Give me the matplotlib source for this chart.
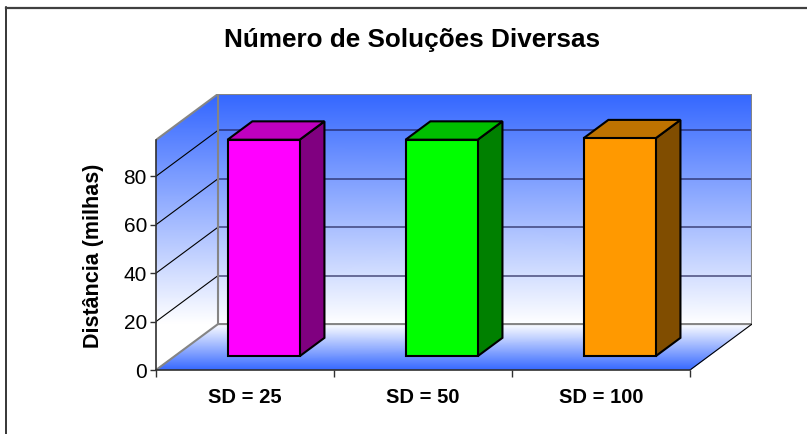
import matplotlib
matplotlib.use("Agg")
import matplotlib.pyplot as plt
import numpy as np
from matplotlib.colors import LinearSegmentedColormap
from matplotlib.lines import Line2D
from matplotlib.patches import Polygon

categories = ["SD = 25", "SD = 50", "SD = 100"]
values = [89.4, 89.4, 90]
y_ticks = [0, 20, 40, 60, 80]
front_colors = ["#FF00FF", "#00FF00", "#FF9900"]
top_colors = ["#BF00BF", "#00BF00", "#BF7300"]
side_colors = ["#800080", "#008000", "#804D00"]

W, H = 807, 434
y_max = 95
# depth of the 3d box, in data units
DX = 62 / 178
DY = 46 / 2.425
bar_w = 0.405
bar_front = 0.30
bar_depth = 0.40

plt.rcParams["font.family"] = ["Liberation Sans", "DejaVu Sans"]

fig = plt.figure(figsize=(W / 100, H / 100), dpi=100)
ax = fig.add_axes([156 / W, (H - 370) / H, 596 / W, 276 / H])
ax.patch.set_visible(False)

wall_cmap = LinearSegmentedColormap.from_list("wall", ["#FFFFFF", "#3366FF"])


def gradient(xs, ys, c):
    # xs, ys, c are 2x2 corners: first row = low colour end
    ax.pcolormesh(np.array(xs), np.array(ys), np.array(c), shading="gouraud",
                  cmap=wall_cmap, vmin=0, vmax=1, zorder=1)


# back wall
gradient([[DX, 3 + DX], [DX, 3 + DX]], [[DY, DY], [y_max + DY, y_max + DY]], [[0, 0], [1, 1]])
# left wall, same vertical fade as the back one so it has to be clipped
fade = np.clip((np.linspace(y_max + DY, 0, 300) - DY) / y_max, 0, 1).reshape(-1, 1)
left_im = ax.imshow(fade, extent=(0, DX, 0, y_max + DY), aspect="auto", cmap=wall_cmap,
                    vmin=0, vmax=1, zorder=1)
left_clip = Polygon([(0, 0), (DX, DY), (DX, y_max + DY), (0, y_max)], closed=True,
                    transform=ax.transData, fc="none", ec="none")
ax.add_patch(left_clip)
left_im.set_clip_path(left_clip)
# floor
gradient([[0, 3], [DX, 3 + DX]], [[0, 0], [DY, DY]], [[1, 1], [0, 0]])

# grid
for v in y_ticks[1:]:
    ax.plot([0, DX], [v, v + DY], color="black", lw=0.8, zorder=2)
    ax.plot([DX, 3 + DX], [v + DY, v + DY], color="#1A1A50", lw=1.1, alpha=0.75, zorder=2)

# wall edges
grey = "#858585"
ax.plot([0, DX, 3 + DX, 3 + DX, DX, 0], [y_max, y_max + DY, y_max + DY, DY, DY, 0],
        color=grey, lw=1.5, zorder=3, solid_joinstyle="miter")
ax.plot([DX, DX], [DY, y_max + DY], color=grey, lw=1.5, zorder=3)
ax.plot([3, 3 + DX], [0, DY], color="black", lw=0.8, zorder=3)

# bars
for i, val in enumerate(values):
    x0 = i + 0.5 - bar_w / 2 + bar_front * DX
    x1 = x0 + bar_w
    y0 = bar_front * DY
    y1 = y0 + val
    dx = bar_depth * DX
    dy = bar_depth * DY
    ax.add_patch(Polygon([(x1, y0), (x1 + dx, y0 + dy), (x1 + dx, y1 + dy), (x1, y1)], closed=True,
                         fc=side_colors[i], ec="black", lw=1.5, zorder=4))
    ax.add_patch(Polygon([(x0, y1), (x1, y1), (x1 + dx, y1 + dy), (x0 + dx, y1 + dy)], closed=True,
                         fc=top_colors[i], ec="black", lw=1.5, zorder=4))
    ax.add_patch(Polygon([(x0, y0), (x1, y0), (x1, y1), (x0, y1)], closed=True,
                         fc=front_colors[i], ec="black", lw=1.5, zorder=5))

ax.set_xlim(0, 3 + DX)
ax.set_ylim(0, y_max + DY)

for s in ["top", "right"]:
    ax.spines[s].set_visible(False)
ax.spines["left"].set_bounds(0, y_max)
ax.spines["bottom"].set_bounds(0, 3)
for s in ["left", "bottom"]:
    ax.spines[s].set_color("#303030")
    ax.spines[s].set_linewidth(1.2)
    ax.spines[s].set_zorder(6)

ax.set_yticks(y_ticks)
ax.tick_params(axis="y", labelsize=15, length=4.5, width=1, color="#303030", pad=2)
ax.set_xticks([0, 1, 2, 3])
ax.set_xticklabels([])
ax.tick_params(axis="x", which="major", length=5, width=1, color="#303030")
ax.set_xticks([0.5, 1.5, 2.5], minor=True)
ax.set_xticklabels(categories, minor=True, fontweight="bold", fontsize=14.5)
ax.tick_params(axis="x", which="minor", length=0, pad=13)

ax.set_ylabel("Distância (milhas)", fontweight="bold", fontsize=15.5, labelpad=0)
ax.yaxis.set_label_coords(-52 / 596, (370 - 256) / 276)

fig.text(412 / W, 1 - 39.5 / H, "Número de Soluções Diversas", fontweight="bold", fontsize=18.8,
         ha="center", va="center")

# chart frame
fig.add_artist(Line2D([6 / W, 6 / W], [0, 1 - 7 / H], color="black", lw=1.1))
fig.add_artist(Line2D([6 / W, 1], [1 - 7.5 / H, 1 - 7.5 / H], color="#404040", lw=1.6))

fig.savefig("out.png", dpi=100)
